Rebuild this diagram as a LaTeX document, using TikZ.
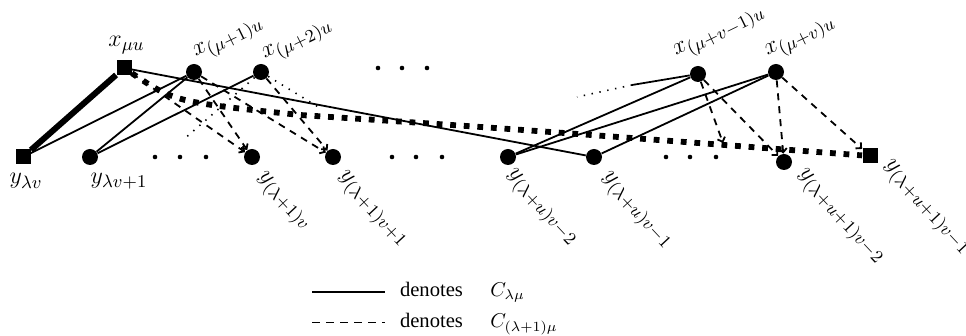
\documentclass[tikz,border=0pt]{standalone}
\usepackage{fontspec}
\setmainfont{Liberation Serif}
\usetikzlibrary{arrows.meta}
\tikzset{
  vtx/.style={circle,fill=black,inner sep=0pt,minimum size=8pt},
  sqv/.style={rectangle,fill=black,inner sep=0pt,minimum size=7.5pt},
  ell/.style={circle,fill=black,inner sep=0pt,minimum size=2.3pt},
  lbl/.style={inner sep=0pt,font=\fontsize{12.3}{14}\selectfont},
  xlbl/.style={lbl,rotate=26},
  ylbl/.style={lbl,rotate=-47},
  cedge/.style={line width=0.9pt},
  dedge/.style={line width=0.9pt,dash pattern=on 3.5pt off 3pt},
  dtip/.style={-{Straight Barb[length=2pt,width=4pt]}},
  dotedge/.style={line width=0.8pt,dash pattern=on 0.7pt off 3.3pt},
  heavy/.style={line width=3pt},
  heavydot/.style={line width=2.9pt,dash pattern=on 2.9pt off 3.9pt},
  legtext/.style={font=\fontsize{10.3}{12}\selectfont,anchor=base,inner sep=0pt},
}
\begin{document}
\begin{tikzpicture}[x=0.5pt,y=-0.5pt]
\useasboundingbox (0,0) rectangle (966,336);
\clip (0,0) rectangle (966,336);

% upper row
\node[sqv] (xa) at (124,68) {};
\node[vtx] (xb) at (194,72) {};
\node[vtx] (xc) at (261,72) {};
\node[vtx] (xd) at (698,74) {};
\node[vtx] (xe) at (776,72) {};
% lower row
\node[sqv] (ya) at (23,157) {};
\node[vtx] (yb) at (90,157) {};
\node[vtx] (yc) at (252,157) {};
\node[vtx] (yd) at (333,157) {};
\node[vtx] (ye) at (508,157) {};
\node[vtx] (yf) at (594,157) {};
\node[vtx] (yg) at (784,162) {};
\node[sqv] (yh) at (870,156) {};

% ellipses
\foreach \i/\x/\y in {t1/378/68,t2/402/68,t3/427/68,
  a1/155/157,a2/180/157,a3/206/157,
  b1/392/157,b2/416/157,b3/442/157,
  c1/666/157,c2/690/157,c3/716/157}
  \node[ell] (e\i) at (\x,\y) {};

% labels
\node[lbl] (lxa) at (126.5,45) {$x_{\mu u}$};
\node[xlbl] (lxb) at (229,40) {$x_{(\mu+1)u}$};
\node[xlbl] (lxc) at (298,42) {$x_{(\mu+2)u}$};
\node[xlbl] (lxd) at (720,34) {$x_{(\mu+v-1)u}$};
\node[xlbl] (lxe) at (801,39) {$x_{(\mu+v)u}$};
\node[lbl] (lya) at (26,181) {$y_{\lambda v}$};
\node[lbl] (lyb) at (119,181) {$y_{\lambda v+1}$};
\node[ylbl] (lyc) at (283,202) {$y_{(\lambda+1)v}$};
\node[ylbl] (lyd) at (372,210) {$y_{(\lambda+1)v+1}$};
\node[ylbl] (lye) at (541,208) {$y_{(\lambda+u)v-2}$};
\node[ylbl] (lyf) at (636,211) {$y_{(\lambda+u)v-1}$};
\node[ylbl] (lyg) at (840,217) {$y_{(\lambda+u+1)v-2}$};
\node[ylbl] (lyh) at (926,208) {$y_{(\lambda+u+1)v-1}$};

% free ends of partial edges
\coordinate (dl) at (183,140);
\coordinate (dr) at (320,108);
\coordinate (tail) at (632,85);
\coordinate (tailend) at (577,97);
\coordinate (dstub) at (723,143);
\coordinate (bend) at (300,115);

% solid edges
\draw[heavy] (ya) -- (xa);
\draw[cedge] (ya) -- (xb);
\draw[cedge] (yb) -- (xb);
\draw[cedge] (yb) -- (xc);
\draw[cedge] (xa) -- (yf);
\draw[cedge] (xd) -- (ye);
\draw[cedge] (xe) -- (ye);
\draw[cedge] (xe) -- (yf);
\draw[cedge] (xd) -- (tail);
\draw[dotedge] (tail) -- (tailend);

% dashed edges
\draw[dedge,dtip] (xa) -- (yc);
\draw[dedge,dtip] (xb) -- (yc);
\draw[dedge,dtip] (xb) -- (yd);
\draw[dedge,dtip] (xc) -- (yd);
\draw[dedge,dtip] (xd) -- (dstub);
\draw[dedge,dtip] (xd) -- (yg);
\draw[dedge,dtip] (xe) -- (yg);
\draw[dedge,dtip] (xe) -- (yh);

% dotted stubs
\draw[dotedge] (xc) -- (dl);
\draw[dotedge] (xc) -- (dr);

% heavy dotted curve
\draw[heavydot] (xa) .. controls (175,102) .. (bend) .. controls (500,128) .. (yh);

% legend
\coordinate (s1) at (312,292);
\coordinate (s2) at (385,292);
\coordinate (d1) at (312,322.5);
\coordinate (d2) at (385,322.5);
\draw[cedge] (s1) -- (s2);
\draw[line width=0.9pt,dash pattern=on 4pt off 3pt] (d1) -- (d2);
\node[legtext] (den1) at (431.5,296.5) {denotes};
\node[legtext,anchor=base west] (c1) at (490,296.5) {$C_{\lambda\mu}$};
\node[legtext] (den2) at (431.5,328) {denotes};
\node[legtext,anchor=base west] (c2) at (490,328) {$C_{(\lambda+1)\mu}$};
\end{tikzpicture}
\end{document}
